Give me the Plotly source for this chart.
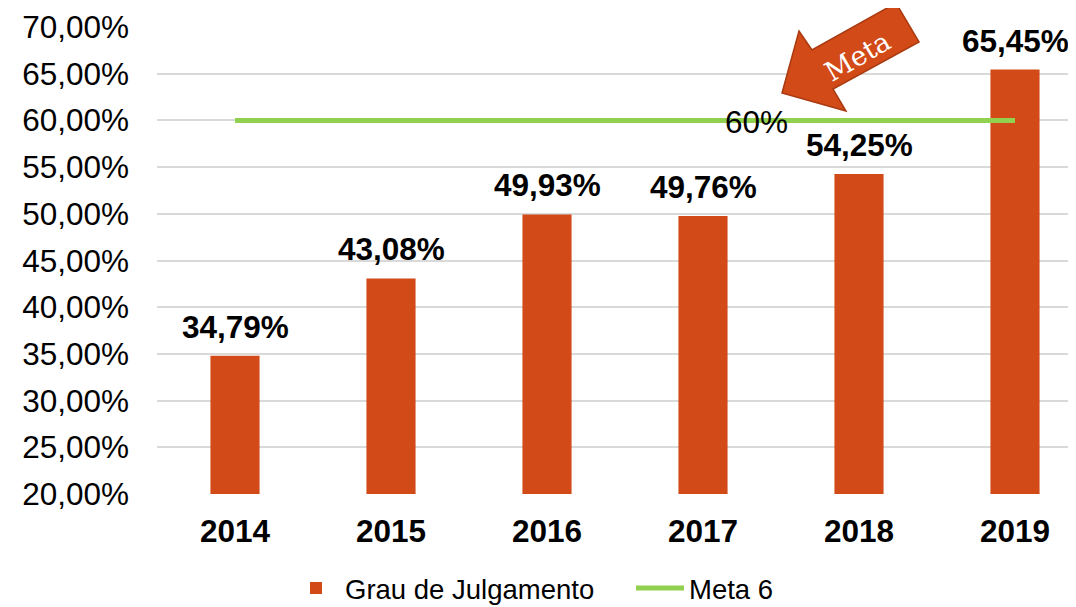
import plotly.graph_objects as go

# ---- data ----
years = ["2014", "2015", "2016", "2017", "2018", "2019"]
grau_julgamento = [0.3479, 0.4308, 0.4993, 0.4976, 0.5425, 0.6545]
meta6 = [0.60, 0.60, 0.60, 0.60, 0.60, 0.60]
meta_label = "60%"
y_ticks = [0.20, 0.25, 0.30, 0.35, 0.40, 0.45, 0.50, 0.55, 0.60, 0.65, 0.70]

# ---- layout constants (pixels) ----
OFF = 8                      # default page body margin
W, H = 1076 - OFF, 607 - OFF
ML, MR, MT, MB = 157 - OFF, 0, 27 - OFF, 113
PW, PH = W - ML - MR, H - MT - MB
CAT_W = 156.0

BAR_COLOR = "#D24A17"
LINE_COLOR = "#92D050"
FONT = "Liberation Sans, Arial, sans-serif"


def px_to_paper(px, py):
    """page pixel -> paper coordinates"""
    fx, fy = px - OFF, py - OFF
    return (fx - ML) / PW, (H - MB - fy) / PH


def fmt_pct(v):
    return f"{v * 100:.2f}%".replace(".", ",")


fig = go.Figure()

fig.add_trace(go.Bar(
    x=years, y=grau_julgamento, name="Grau de Julgamento",
    marker=dict(color=BAR_COLOR, line=dict(width=0)),
    width=0.315,
))

fig.add_trace(go.Scatter(
    x=years, y=meta6, name="Meta 6", mode="lines",
    line=dict(color=LINE_COLOR, width=5),
))

# data labels on bars (category axis -> use category index)
for i, v in enumerate(grau_julgamento):
    fig.add_annotation(
        x=i, y=v, xref="x", yref="y", text=fmt_pct(v), showarrow=False,
        yanchor="bottom", yshift=9,
        font=dict(family=FONT, size=31.5, color="black", weight="bold"),
    )

# label of the goal line
fig.add_annotation(
    x=3, y=meta6[3], xref="x", yref="y", text=meta_label, showarrow=False,
    xanchor="left", yanchor="middle", xshift=20, yshift=-2,
    font=dict(family=FONT, size=31.5, color="black"),
)

# decorative callout arrow "Meta"
arrow_px = [(782, 93), (799, 31), (812, 50), (896, 3), (919, 42), (833, 89), (846, 111)]
pts = [px_to_paper(x, y) for x, y in arrow_px]
path = "M " + " L ".join(f"{x:.4f},{y:.4f}" for x, y in pts) + " Z"
fig.add_shape(
    type="path", path=path, xref="paper", yref="paper",
    fillcolor=BAR_COLOR, line=dict(color="#A83A10", width=1.5), layer="above",
)
tx, ty = px_to_paper(857, 56)
fig.add_annotation(
    x=tx, y=ty, xref="paper", yref="paper", text="Meta", showarrow=False,
    xanchor="center", yanchor="middle",
    textangle=-30, font=dict(family="DejaVu Serif, serif", size=27, color="white"),
)

lx, ly = px_to_paper(287, 588)
fig.update_layout(
    width=W, height=H,
    margin=dict(l=ML, r=MR, t=MT, b=MB, pad=0, autoexpand=False),
    plot_bgcolor="white", paper_bgcolor="white",
    separators=",.",
    font=dict(family=FONT, color="black"),
    showlegend=True,
    legend=dict(
        orientation="h", xref="paper", yref="paper",
        x=lx, xanchor="left", y=ly, yanchor="middle",
        font=dict(family=FONT, size=27.5, color="black"),
        itemwidth=48, traceorder="normal",
        entrywidth=281, entrywidthmode="pixels",
    ),
    bargap=0.6,
)

fig.update_xaxes(
    type="category", range=[-0.5, -0.5 + PW / CAT_W],
    showgrid=False, showline=False, ticks="", zeroline=False,
    tickfont=dict(family=FONT, size=31.5, color="black", weight="bold"),
    ticklabelstandoff=15, automargin=False,
)
fig.update_yaxes(
    range=[0.2, 0.7], tickvals=y_ticks, tickformat=".2%",
    showgrid=True, gridcolor="#D9D9D9", gridwidth=1.5,
    showline=False, zeroline=False, ticks="",
    tickfont=dict(family=FONT, size=31.5, color="black"),
    ticklabelstandoff=27, automargin=False,
)

fig.write_html("out.html")
